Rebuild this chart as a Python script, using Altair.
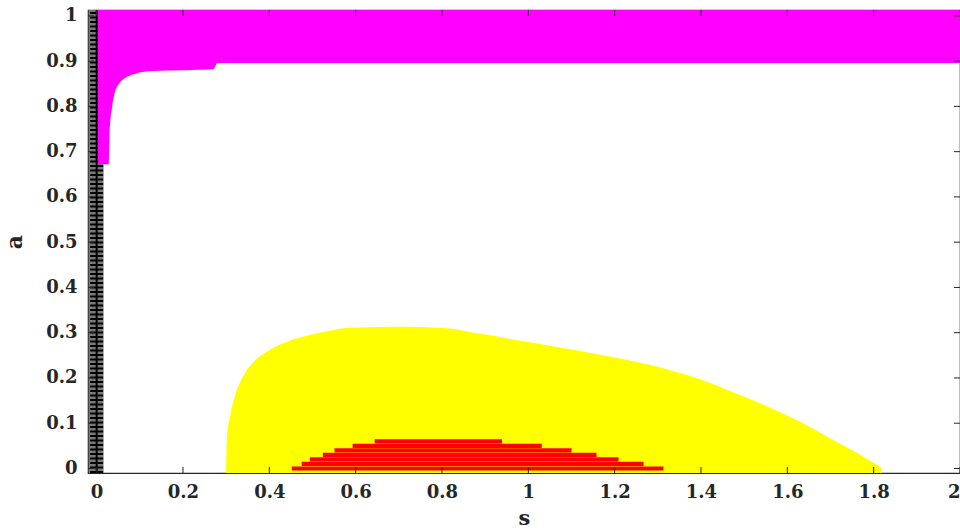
import altair as alt
import pandas as pd

# ---- data ----
x_ticks = [0, 0.2, 0.4, 0.6, 0.8, 1.0, 1.2, 1.4, 1.6, 1.8, 2.0]
y_ticks = [0, 0.1, 0.2, 0.3, 0.4, 0.5, 0.6, 0.7, 0.8, 0.9, 1.0]

# yellow region: upper boundary a(s)
yellow_s = [0.300, 0.302, 0.310, 0.322, 0.340, 0.365, 0.394, 0.441, 0.487, 0.533, 0.586, 0.700,
            0.810, 0.886, 0.978, 1.070, 1.163, 1.278, 1.393, 1.509, 1.624, 1.716, 1.770, 1.818]
yellow_top = [0.000, 0.070, 0.120, 0.165, 0.205, 0.237, 0.258, 0.280, 0.293, 0.303, 0.311, 0.313,
              0.310, 0.298, 0.283, 0.268, 0.252, 0.230, 0.199, 0.155, 0.106, 0.058, 0.030, 0.002]

# red region: rows of points (a level, left s, right s)
red_a = [0.00, 0.01, 0.02, 0.03, 0.04, 0.05, 0.06]
red_left = [0.452, 0.475, 0.494, 0.524, 0.551, 0.593, 0.644]
red_right = [1.313, 1.267, 1.209, 1.158, 1.100, 1.031, 0.939]

# magenta region: lower boundary a(s), fills up to the top
mag_s = [0.003, 0.028, 0.030, 0.036, 0.042, 0.052, 0.065, 0.090, 0.130, 0.270, 0.280, 2.000]
mag_low = [0.672, 0.672, 0.740, 0.800, 0.830, 0.850, 0.862, 0.872, 0.878, 0.882, 0.896, 0.896]

# black column of points at s = 0
black_s = [0.0]
black_left = [-0.018]
black_right = [0.016]

# ---- layout ----
W, H = 872, 463
XDOM = [-0.02, 2.0]
YDOM = [-0.01, 1.013]
AX = "#262626"

xs = alt.Scale(domain=XDOM, nice=False, zero=False)
ys = alt.Scale(domain=YDOM, nice=False, zero=False)
x_axis = alt.Axis(values=x_ticks, format="~g", title="s", labelPadding=10,
                  titleX=W / 2, titleY=51, titleBaseline="alphabetic", titleFontSize=21)
y_axis = alt.Axis(values=y_ticks, format="~g", title="a", labelPadding=11,
                  titleX=-67, titleY=H / 2, titleBaseline="alphabetic", titleFontSize=22)


def X(field):
    return alt.X(field, type="quantitative", scale=xs, axis=x_axis)


def Y(field):
    return alt.Y(field, type="quantitative", scale=ys, axis=y_axis)


def Ydatum(v):
    return alt.Y(datum=v, type="quantitative", scale=ys, axis=y_axis)


yellow_df = pd.DataFrame({"s": yellow_s, "top": yellow_top})
red_df = pd.DataFrame({"a": red_a, "l": red_left, "r": red_right})
red_df["lo"] = red_df["a"] - 0.0046
red_df["hi"] = red_df["a"] + 0.0046
mag_df = pd.DataFrame({"s": mag_s, "low": mag_low})
black_df = pd.DataFrame({"s": black_s, "l": black_left, "r": black_right})
xt_df = pd.DataFrame({"t": x_ticks})
yt_df = pd.DataFrame({"t": y_ticks})

yellow = alt.Chart(yellow_df).mark_area(color="#ffff00", opacity=1, interpolate="monotone").encode(
    x=X("s"), y=Y("top"), y2=alt.Y2(datum=YDOM[0]))

red = alt.Chart(red_df).mark_rect(color="#ff0000").encode(
    x=X("l"), x2="r", y=Y("lo"), y2="hi")

black_bg = alt.Chart(black_df).mark_rect(color="#7a7a7a").encode(
    x=X("l"), x2="r", y=Ydatum(YDOM[0]), y2=alt.Y2(datum=YDOM[1]))
black_ladder = alt.Chart(black_df).mark_rule(color="#000000", strokeWidth=13, strokeDash=[2, 2.5]).encode(
    x=X("s"), y=Ydatum(YDOM[0]), y2=alt.Y2(datum=YDOM[1]))
black_core = alt.Chart(black_df).mark_rule(color="#000000", strokeWidth=2).encode(
    x=X("s"), y=Ydatum(YDOM[0]), y2=alt.Y2(datum=YDOM[1]))

magenta = alt.Chart(mag_df).mark_area(color="#ff00ff", opacity=1, interpolate="monotone").encode(
    x=X("s"), y=Y("low"), y2=alt.Y2(datum=YDOM[1]))

tick_b = alt.Chart(xt_df).mark_rule(color=AX, strokeWidth=1).encode(
    x=X("t"), y=alt.value(H), y2=alt.value(H - 6))
tick_t = alt.Chart(xt_df).mark_rule(color=AX, strokeWidth=1).encode(
    x=X("t"), y=alt.value(0), y2=alt.value(6))
tick_l = alt.Chart(yt_df).mark_rule(color=AX, strokeWidth=1).encode(
    y=Y("t"), x=alt.value(0), x2=alt.value(6))
tick_r = alt.Chart(yt_df).mark_rule(color=AX, strokeWidth=1).encode(
    y=Y("t"), x=alt.value(W), x2=alt.value(W - 6))

chart = alt.layer(
    yellow, red, black_bg, black_ladder, black_core, magenta,
    tick_b, tick_t, tick_l, tick_r
).properties(
    width=W, height=H,
    padding={"left": 88, "top": 10, "right": 0, "bottom": 56},
    autosize=alt.AutoSizeParams(type="none"),
    background="white",
).configure_axis(
    domain=False, ticks=False, grid=False,
    labelFont="DejaVu Serif", labelFontWeight="bold", labelFontSize=18, labelColor=AX,
    titleFont="DejaVu Serif", titleFontWeight="bold", titleColor=AX,
).configure_view(stroke=AX, strokeWidth=1.2)

chart.save("out.html", embed_options={"renderer": "svg", "actions": False})
